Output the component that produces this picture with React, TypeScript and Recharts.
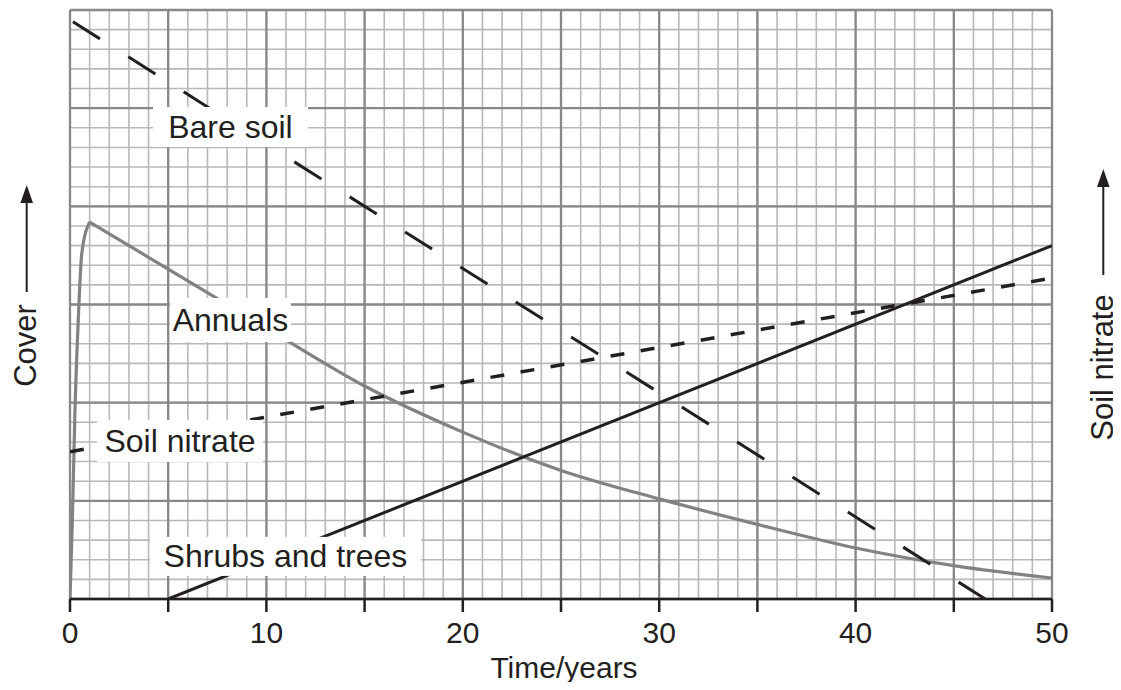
import React from "react";
import { LineChart, Line, XAxis, YAxis, CartesianGrid, ReferenceDot } from "recharts";

// ---- data (x = time in years, y = relative amount on a 0–30 grid scale) ----
const bareSoil = [
  { x: 0.15, y: 29.4 },
  { x: 46.6, y: 0 },
];
const shrubsTrees = [
  { x: 5, y: 0 },
  { x: 50, y: 18 },
];
const soilNitrate = [
  { x: 0, y: 7.5 },
  { x: 50, y: 16.35 },
];
const annualsRise = [
  { x: 0, y: 0 },
  { x: 0.12, y: 4 },
  { x: 0.25, y: 9.5 },
  { x: 0.42, y: 14.2 },
  { x: 0.6, y: 17.6 },
  { x: 1, y: 19.2 },
];
const annualsDecline = [
  { x: 1, y: 19.2 },
  { x: 5, y: 16.8 },
  { x: 10, y: 13.8 },
  { x: 15, y: 10.85 },
  { x: 20, y: 8.5 },
  { x: 25, y: 6.55 },
  { x: 30, y: 5.1 },
  { x: 35, y: 3.8 },
  { x: 40, y: 2.6 },
  { x: 45, y: 1.7 },
  { x: 50, y: 1.07 },
];

// ---- ticks ----
const xMajorTicks = [0, 5, 10, 15, 20, 25, 30, 35, 40, 45, 50];
const xMinorTicks = Array.from({ length: 51 }, (_, i) => i);
const yMajorTicks = [0, 5, 10, 15, 20, 25, 30];
const yMinorTicks = Array.from({ length: 31 }, (_, i) => i);
const xLabelledTicks = [0, 10, 20, 30, 40, 50];

// ---- annotation texts (anchored in data coordinates) ----
const seriesLabels = [
  { text: "Bare soil", x: 8.17, y: 24.04 },
  { text: "Annuals", x: 8.17, y: 14.21 },
  { text: "Soil nitrate", x: 5.6, y: 8.05 },
  { text: "Shrubs and trees", x: 10.97, y: 2.17 },
];
const labelBoxSizes: Record<string, { w: number; h: number }> = {
  "Bare soil": { w: 155, h: 40 },
  Annuals: { w: 121, h: 44 },
  "Soil nitrate": { w: 166, h: 42 },
  "Shrubs and trees": { w: 271, h: 39 },
};

const xTitle = "Time/years";
const leftTitle = "Cover";
const rightTitle = "Soil nitrate";

const INK = "#231f20";
const FONT = "'Liberation Sans', Arial, Helvetica, sans-serif";

const makeLabelShape = (text: string) => (p: any) => {
  const { cx, cy } = p;
  const s = labelBoxSizes[text];
  return (
    <g>
      <rect x={cx - s.w / 2} y={cy - s.h / 2} width={s.w} height={s.h} fill="#ffffff" />
      <text x={cx} y={cy + 11} textAnchor="middle" fontSize={32} fontFamily={FONT} fill={INK}>
        {text}
      </text>
    </g>
  );
};

// Titles drawn relative to the x-axis box (x = plot left, y = plot bottom, width = plot width)
const renderTitles = (props: any) => {
  const vb = props.viewBox || {};
  const x = vb.x ?? 0;
  const y = vb.y ?? 0;
  const w = vb.width ?? 0;
  const right = x + w;

  const ltx = x - 34;
  const lty = y - 253.5;
  const llx = x - 43.3;

  const rtx = right + 61;
  const rty = y - 231.5;
  const rlx = right + 51.3;

  return (
    <g>
      <text x={x + w / 2 + 3} y={y + 79} textAnchor="middle" fontSize={30} fontFamily={FONT} fill={INK}>
        {xTitle}
      </text>

      <text
        x={ltx}
        y={lty}
        transform={`rotate(-90, ${ltx}, ${lty})`}
        textAnchor="middle"
        fontSize={31}
        fontFamily={FONT}
        fill={INK}
      >
        {leftTitle}
      </text>
      <line x1={llx} y1={y - 307} x2={llx} y2={y - 398} stroke={INK} strokeWidth={2} />
      <path d={`M ${llx} ${y - 414} L ${llx - 6.3} ${y - 396} L ${llx + 6.3} ${y - 396} Z`} fill={INK} />

      <text
        x={rtx}
        y={rty}
        transform={`rotate(-90, ${rtx}, ${rty})`}
        textAnchor="middle"
        fontSize={31}
        fontFamily={FONT}
        fill={INK}
      >
        {rightTitle}
      </text>
      <line x1={rlx} y1={y - 324} x2={rlx} y2={y - 414} stroke={INK} strokeWidth={2} />
      <path d={`M ${rlx} ${y - 430} L ${rlx - 6.3} ${y - 412} L ${rlx + 6.3} ${y - 412} Z`} fill={INK} />
    </g>
  );
};

export default function App() {
  return (
    <div style={{ margin: -8 }}>
      <LineChart width={1121} height={690} margin={{ top: 10, right: 69, bottom: 51, left: 70 }}>
        <XAxis
          xAxisId="minor"
          type="number"
          dataKey="x"
          domain={[0, 50]}
          ticks={xMinorTicks}
          interval={0}
          hide
          height={0}
          allowDataOverflow
        />
        <YAxis
          yAxisId="minor"
          type="number"
          domain={[0, 30]}
          ticks={yMinorTicks}
          interval={0}
          hide
          width={0}
          allowDataOverflow
        />
        <XAxis
          xAxisId="majorGridX"
          type="number"
          dataKey="x"
          domain={[0, 50]}
          ticks={xMajorTicks}
          interval={0}
          hide
          height={0}
          allowDataOverflow
        />
        <YAxis
          yAxisId="majorGridY"
          type="number"
          domain={[0, 30]}
          ticks={yMajorTicks}
          interval={0}
          hide
          width={0}
          allowDataOverflow
        />
        <CartesianGrid xAxisId="minor" yAxisId="minor" stroke="#b8b8b8" strokeWidth={1.6} />
        <CartesianGrid xAxisId="majorGridX" yAxisId="majorGridY" stroke="#888888" strokeWidth={2.3} />

        <XAxis
          xAxisId="main"
          type="number"
          dataKey="x"
          domain={[0, 50]}
          ticks={xMajorTicks}
          interval={0}
          allowDataOverflow
          height={40}
          tickSize={13}
          tickMargin={10}
          tickFormatter={(v: number) => (xLabelledTicks.includes(v) ? String(v) : "")}
          tick={{ fontSize: 30, fill: INK, fontFamily: FONT }}
          tickLine={{ stroke: INK, strokeWidth: 2.5 }}
          axisLine={{ stroke: INK, strokeWidth: 2.5 }}
          label={renderTitles}
        />
        <YAxis
          yAxisId="major"
          type="number"
          domain={[0, 30]}
          ticks={yMajorTicks}
          interval={0}
          width={0}
          tick={false}
          tickLine={false}
          allowDataOverflow
          axisLine={{ stroke: INK, strokeWidth: 2.5 }}
        />
        <YAxis
          yAxisId="right"
          orientation="right"
          type="number"
          domain={[0, 30]}
          ticks={yMajorTicks}
          interval={0}
          width={0}
          tick={false}
          tickLine={false}
          axisLine={{ stroke: INK, strokeWidth: 2.5 }}
        />

        <Line
          xAxisId="main"
          yAxisId="major"
          data={annualsRise}
          dataKey="y"
          type="monotone"
          stroke="#808285"
          strokeWidth={3.2}
          dot={false}
          activeDot={false}
          isAnimationActive={false}
        />
        <Line
          xAxisId="main"
          yAxisId="major"
          data={annualsDecline}
          dataKey="y"
          type="monotone"
          stroke="#808285"
          strokeWidth={3.2}
          dot={false}
          activeDot={false}
          isAnimationActive={false}
        />
        <Line
          xAxisId="main"
          yAxisId="major"
          data={bareSoil}
          dataKey="y"
          type="linear"
          stroke={INK}
          strokeWidth={3}
          strokeDasharray="32 33.5"
          dot={false}
          activeDot={false}
          isAnimationActive={false}
        />
        <Line
          xAxisId="main"
          yAxisId="major"
          data={soilNitrate}
          dataKey="y"
          type="linear"
          stroke={INK}
          strokeWidth={3.5}
          strokeDasharray="14 16.5"
          dot={false}
          activeDot={false}
          isAnimationActive={false}
        />
        <Line
          xAxisId="main"
          yAxisId="major"
          data={shrubsTrees}
          dataKey="y"
          type="linear"
          stroke={INK}
          strokeWidth={3}
          dot={false}
          activeDot={false}
          isAnimationActive={false}
        />

        {seriesLabels.map((l) => (
          <ReferenceDot
            key={l.text}
            xAxisId="main"
            yAxisId="major"
            x={l.x}
            y={l.y}
            r={1}
            zIndex={1500}
            shape={makeLabelShape(l.text)}
          />
        ))}
      </LineChart>
    </div>
  );
}
